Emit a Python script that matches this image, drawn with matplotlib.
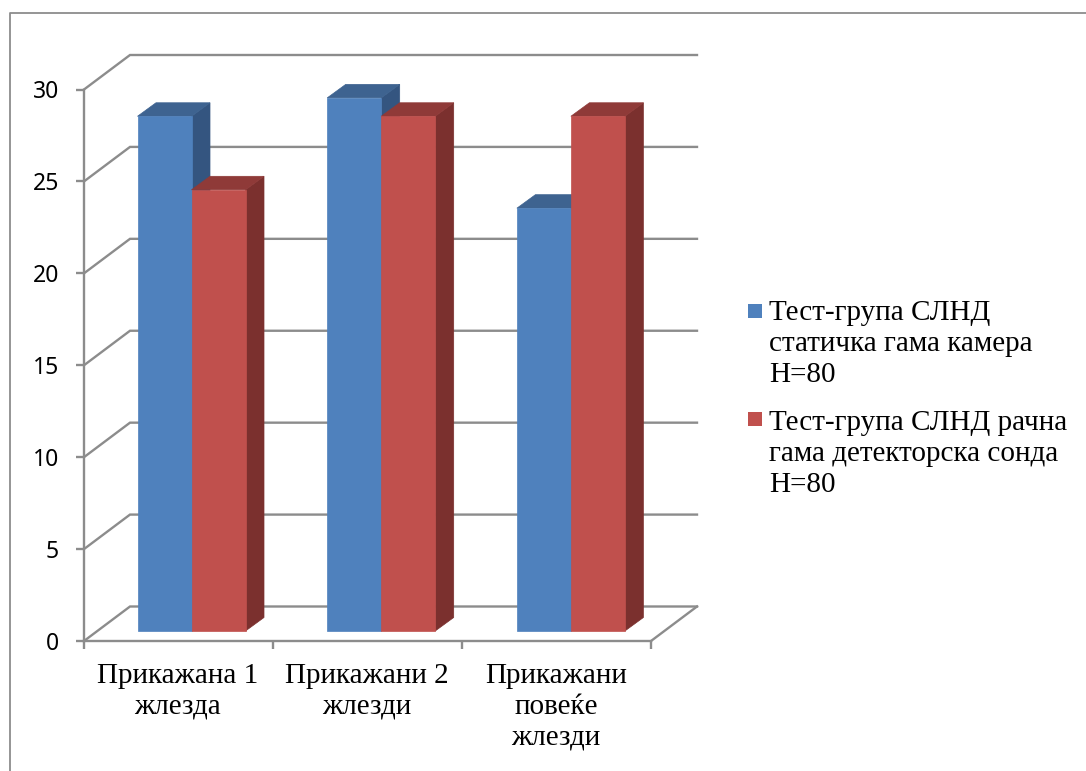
import matplotlib
matplotlib.use("Agg")
import matplotlib.pyplot as plt
from matplotlib.patches import Polygon, Rectangle
from matplotlib.lines import Line2D

categories = ["Прикажана 1\nжлезда", "Прикажани 2\nжлезди", "Прикажани\nповеќе\nжлезди"]
static_camera = [28, 29, 23]
handheld_probe = [24, 28, 28]
series_names = ["Тест-група СЛНД\nстатичка гама камера\nН=80",
                "Тест-група СЛНД рачна\nгама детекторска сонда\nН=80"]
y_ticks = [0, 5, 10, 15, 20, 25, 30]

W, H = 1086, 771
GRID = "#8c8c8c"
BLUE, BLUE_TOP, BLUE_SIDE = "#4f81bd", "#3e6390", "#345580"
RED, RED_TOP, RED_SIDE = "#c0504d", "#8f3a38", "#7b302e"

fig = plt.figure(figsize=(W / 100, H / 100), dpi=100)

# frame around the whole chart
fig.add_artist(Line2D([9.5 / W, 9.5 / W, 1], [0, 1 - 12.5 / H, 1 - 12.5 / H],
                      color=GRID, lw=1.3, transform=fig.transFigure))

# front plane of the fake 3D box
left, right, top, bottom = 84, 651, 89.5, 641
ax = fig.add_axes([left / W, 1 - bottom / H, (right - left) / W, (bottom - top) / H])
ax.set_xlim(0, 3)
ax.set_ylim(0, 30)
ax.patch.set_visible(False)
for s in ax.spines.values():
    s.set_visible(False)

px_x = (right - left) / 3
px_y = (bottom - top) / 30

# depth of the box and of the bars, in data units
box_dx, box_dy = 46 / px_x, 34.5 / px_y
bar_dx, bar_dy = 18.5 / px_x, 13.5 / px_y
base_x, base_y = 53.5 / px_x, 10 / px_y
bar_w = 54 / px_x
group_step = 189.7 / px_x

# walls and floor
for v in y_ticks:
    ax.plot([0, box_dx, 3 + box_dx], [v, v + box_dy, v + box_dy], color=GRID, lw=1.7,
            clip_on=False, zorder=1, solid_joinstyle="miter")
ax.plot([3, 3 + box_dx], [0, box_dy], color=GRID, lw=1.7, clip_on=False, zorder=1)
ax.plot([0, 3], [0, 0], color=GRID, lw=1.7, clip_on=False, zorder=1)
ax.plot([0, 0], [0, 30], color=GRID, lw=1.7, clip_on=False, zorder=1)


def draw_bar(x, value, face, dark_top, dark_side, z):
    y0 = base_y
    x1 = x + bar_w
    ax.add_patch(Polygon([(x1, y0), (x1 + bar_dx, y0 + bar_dy), (x1 + bar_dx, value + base_y + bar_dy),
                          (x1, value + base_y)], fc=dark_side, ec=dark_side, lw=0.5, clip_on=False, zorder=z))
    ax.add_patch(Polygon([(x, value + base_y), (x + bar_dx, value + base_y + bar_dy),
                          (x1 + bar_dx, value + base_y + bar_dy), (x1, value + base_y)],
                         fc=dark_top, ec=dark_top, lw=0.5, clip_on=False, zorder=z))
    ax.add_patch(Rectangle((x, y0), bar_w, value, fc=face, ec=face, lw=0.5, clip_on=False, zorder=z + 0.1))


for i in range(len(categories)):
    x = i * group_step + base_x
    draw_bar(x, static_camera[i], BLUE, BLUE_TOP, BLUE_SIDE, 2)
    draw_bar(x + bar_w, handheld_probe[i], RED, RED_TOP, RED_SIDE, 3)

ax.set_yticks(y_ticks)
ax.set_yticklabels([str(v) for v in y_ticks], fontfamily="Noto Sans", fontsize=16.5)
ax.set_xticks([0, 1, 2, 3])
ax.set_xticklabels([])
ax.tick_params(axis="both", color=GRID, width=1.7, length=6, labelcolor="black")
ax.tick_params(axis="y", pad=12)

for i, name in enumerate(categories):
    ax.annotate(name, (i + 0.5, 0), xytext=(-0.5, -15.5), textcoords="offset points", ha="center", va="top",
                fontfamily="Liberation Serif", fontsize=21, linespacing=1.26, annotation_clip=False)

# legend on the right
legend_y = [313, 421]
legend_text_y = [300, 410]
for name, color, y, ty in zip(series_names, [BLUE, RED], legend_y, legend_text_y):
    fig.add_artist(Rectangle((748 / W, 1 - (y + 5) / H), 14 / W, 14 / H, fc=color, ec="none",
                             transform=fig.transFigure))
    fig.text(769 / W, 1 - ty / H, name, ha="left", va="top", fontfamily="Liberation Serif",
             fontsize=21, linespacing=1.26)

fig.savefig("out.png", dpi=100)
